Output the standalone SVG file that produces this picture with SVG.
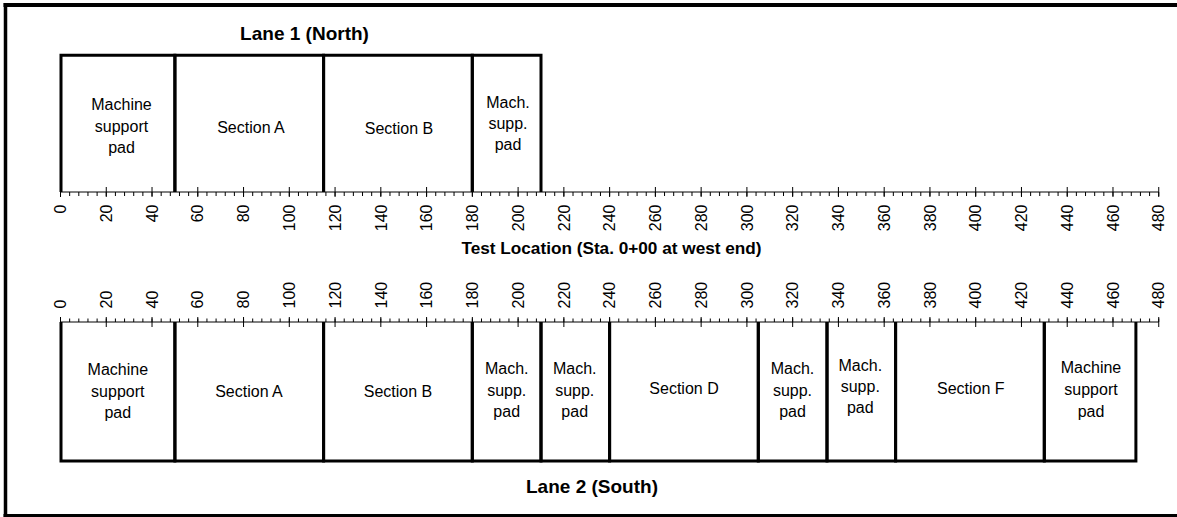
<svg xmlns="http://www.w3.org/2000/svg" width="1177" height="517" viewBox="0 0 1177 517">
<style>
.frame{fill:none;stroke:#000}
.bnd{fill:none;stroke:#000;stroke-width:3}
.axis{fill:none;stroke:#000;stroke-width:1}
.minor{fill:none;stroke:#000;stroke-dasharray:1 8.152}
.major{fill:none;stroke:#000;stroke-dasharray:1 44.76}
.lbl{font-family:"Liberation Sans",Arial,sans-serif;font-size:16px;fill:#000;text-anchor:middle}
.num{font-family:"Liberation Sans",Arial,sans-serif;font-size:16px;fill:#000}
.title{font-family:"Liberation Sans",Arial,sans-serif;font-weight:bold;font-size:19px;fill:#000;text-anchor:middle}
.tnum text{text-anchor:end}
.bnum text{text-anchor:start}
</style>
<rect x="0" y="0" width="1177" height="517" fill="#fff"/>
<g id="frame">
<line class="frame" x1="3.5" y1="5" x2="1177" y2="5" stroke-width="4"/>
<line class="frame" x1="5.5" y1="3" x2="5.5" y2="517" stroke-width="3.5"/>
<line class="frame" x1="3.5" y1="515.5" x2="1177" y2="515.5" stroke-width="3.2"/>
</g>

<g id="titles">
<text class="title" x="304.5" y="40">Lane 1 (North)</text>
<text class="title" x="611.5" y="254" style="font-size:17.2px">Test Location (Sta. 0+00 at west end)</text>
<text class="title" x="592" y="493">Lane 2 (South)</text>
</g>

<g id="axis-top">
<line class="axis" x1="60.5" y1="192" x2="1158.74" y2="192"/>
<line class="minor" x1="60" y1="194" x2="1159.5" y2="194" stroke-width="4"/>
<line class="major" x1="60" y1="192" x2="1159.5" y2="192" stroke-width="10"/>
<g class="num tnum">
<text transform="rotate(-90 66.2 204.5)" x="66.2" y="204.5">0</text>
<text transform="rotate(-90 111.96 204.5)" x="111.96" y="204.5">20</text>
<text transform="rotate(-90 157.72 204.5)" x="157.72" y="204.5">40</text>
<text transform="rotate(-90 203.48 204.5)" x="203.48" y="204.5">60</text>
<text transform="rotate(-90 249.24 204.5)" x="249.24" y="204.5">80</text>
<text transform="rotate(-90 295 204.5)" x="295" y="204.5">100</text>
<text transform="rotate(-90 340.76 204.5)" x="340.76" y="204.5">120</text>
<text transform="rotate(-90 386.52 204.5)" x="386.52" y="204.5">140</text>
<text transform="rotate(-90 432.28 204.5)" x="432.28" y="204.5">160</text>
<text transform="rotate(-90 478.04 204.5)" x="478.04" y="204.5">180</text>
<text transform="rotate(-90 523.8 204.5)" x="523.8" y="204.5">200</text>
<text transform="rotate(-90 569.56 204.5)" x="569.56" y="204.5">220</text>
<text transform="rotate(-90 615.32 204.5)" x="615.32" y="204.5">240</text>
<text transform="rotate(-90 661.08 204.5)" x="661.08" y="204.5">260</text>
<text transform="rotate(-90 706.84 204.5)" x="706.84" y="204.5">280</text>
<text transform="rotate(-90 752.6 204.5)" x="752.6" y="204.5">300</text>
<text transform="rotate(-90 798.36 204.5)" x="798.36" y="204.5">320</text>
<text transform="rotate(-90 844.12 204.5)" x="844.12" y="204.5">340</text>
<text transform="rotate(-90 889.88 204.5)" x="889.88" y="204.5">360</text>
<text transform="rotate(-90 935.64 204.5)" x="935.64" y="204.5">380</text>
<text transform="rotate(-90 981.4 204.5)" x="981.4" y="204.5">400</text>
<text transform="rotate(-90 1027.16 204.5)" x="1027.16" y="204.5">420</text>
<text transform="rotate(-90 1072.92 204.5)" x="1072.92" y="204.5">440</text>
<text transform="rotate(-90 1118.68 204.5)" x="1118.68" y="204.5">460</text>
<text transform="rotate(-90 1164.44 204.5)" x="1164.44" y="204.5">480</text>
</g>
</g>

<g id="axis-bottom">
<line class="axis" x1="60.5" y1="322" x2="1158.74" y2="322"/>
<line class="minor" x1="60" y1="320.25" x2="1159.5" y2="320.25" stroke-width="3.5"/>
<line class="major" x1="60" y1="322" x2="1159.5" y2="322" stroke-width="10"/>
<g class="num bnum">
<text transform="rotate(-90 66.2 308.5)" x="66.2" y="308.5">0</text>
<text transform="rotate(-90 111.96 308.5)" x="111.96" y="308.5">20</text>
<text transform="rotate(-90 157.72 308.5)" x="157.72" y="308.5">40</text>
<text transform="rotate(-90 203.48 308.5)" x="203.48" y="308.5">60</text>
<text transform="rotate(-90 249.24 308.5)" x="249.24" y="308.5">80</text>
<text transform="rotate(-90 295 308.5)" x="295" y="308.5">100</text>
<text transform="rotate(-90 340.76 308.5)" x="340.76" y="308.5">120</text>
<text transform="rotate(-90 386.52 308.5)" x="386.52" y="308.5">140</text>
<text transform="rotate(-90 432.28 308.5)" x="432.28" y="308.5">160</text>
<text transform="rotate(-90 478.04 308.5)" x="478.04" y="308.5">180</text>
<text transform="rotate(-90 523.8 308.5)" x="523.8" y="308.5">200</text>
<text transform="rotate(-90 569.56 308.5)" x="569.56" y="308.5">220</text>
<text transform="rotate(-90 615.32 308.5)" x="615.32" y="308.5">240</text>
<text transform="rotate(-90 661.08 308.5)" x="661.08" y="308.5">260</text>
<text transform="rotate(-90 706.84 308.5)" x="706.84" y="308.5">280</text>
<text transform="rotate(-90 752.6 308.5)" x="752.6" y="308.5">300</text>
<text transform="rotate(-90 798.36 308.5)" x="798.36" y="308.5">320</text>
<text transform="rotate(-90 844.12 308.5)" x="844.12" y="308.5">340</text>
<text transform="rotate(-90 889.88 308.5)" x="889.88" y="308.5">360</text>
<text transform="rotate(-90 935.64 308.5)" x="935.64" y="308.5">380</text>
<text transform="rotate(-90 981.4 308.5)" x="981.4" y="308.5">400</text>
<text transform="rotate(-90 1027.16 308.5)" x="1027.16" y="308.5">420</text>
<text transform="rotate(-90 1072.92 308.5)" x="1072.92" y="308.5">440</text>
<text transform="rotate(-90 1118.68 308.5)" x="1118.68" y="308.5">460</text>
<text transform="rotate(-90 1164.44 308.5)" x="1164.44" y="308.5">480</text>
</g>
</g>

<g id="lane1">
<g id="l1-pad1">
<path class="bnd" d="M61 192V55.3H174.9V192"/>
<text class="lbl" x="121.5" y="110">Machine</text>
<text class="lbl" x="121.5" y="131.5">support</text>
<text class="lbl" x="121.5" y="153">pad</text>
</g>
<g id="l1-secA">
<path class="bnd" d="M174.9 192V55.3H323.6V192"/>
<text class="lbl" x="251" y="133">Section A</text>
</g>
<g id="l1-secB">
<path class="bnd" d="M323.6 192V55.3H472.3V192"/>
<text class="lbl" x="399" y="134">Section B</text>
</g>
<g id="l1-pad2">
<path class="bnd" d="M472.3 192V55.3H541V192"/>
<text class="lbl" x="508" y="108">Mach.</text>
<text class="lbl" x="508" y="129">supp.</text>
<text class="lbl" x="508" y="150">pad</text>
</g>
</g>

<g id="lane2">
<g id="l2-pad1">
<path class="bnd" d="M61 322V461H174.9V322"/>
<text class="lbl" x="117.8" y="375">Machine</text>
<text class="lbl" x="117.8" y="396.5">support</text>
<text class="lbl" x="117.8" y="418">pad</text>
</g>
<g id="l2-secA">
<path class="bnd" d="M174.9 322V461H323.6V322"/>
<text class="lbl" x="249" y="396.7">Section A</text>
</g>
<g id="l2-secB">
<path class="bnd" d="M323.6 322V461H472.3V322"/>
<text class="lbl" x="398" y="396.7">Section B</text>
</g>
<g id="l2-pad2">
<path class="bnd" d="M472.3 322V461H541V322"/>
<text class="lbl" x="506.7" y="374">Mach.</text>
<text class="lbl" x="506.7" y="395.5">supp.</text>
<text class="lbl" x="506.7" y="417">pad</text>
</g>
<g id="l2-pad3">
<path class="bnd" d="M541 322V461H609.6V322"/>
<text class="lbl" x="574.7" y="374">Mach.</text>
<text class="lbl" x="574.7" y="395.5">supp.</text>
<text class="lbl" x="574.7" y="417">pad</text>
</g>
<g id="l2-secD">
<path class="bnd" d="M609.6 322V461H758.3V322"/>
<text class="lbl" x="684" y="394">Section D</text>
</g>
<g id="l2-pad4">
<path class="bnd" d="M758.3 322V461H827V322"/>
<text class="lbl" x="792.5" y="374">Mach.</text>
<text class="lbl" x="792.5" y="395.5">supp.</text>
<text class="lbl" x="792.5" y="417">pad</text>
</g>
<g id="l2-pad5">
<path class="bnd" d="M827 322V461H895.6V322"/>
<text class="lbl" x="860.3" y="370.7">Mach.</text>
<text class="lbl" x="860.3" y="392">supp.</text>
<text class="lbl" x="860.3" y="413">pad</text>
</g>
<g id="l2-secF">
<path class="bnd" d="M895.6 322V461H1044.3V322"/>
<text class="lbl" x="970.8" y="394">Section F</text>
</g>
<g id="l2-pad6">
<path class="bnd" d="M1044.3 322V461H1135.9V322"/>
<text class="lbl" x="1091" y="372.7">Machine</text>
<text class="lbl" x="1091" y="394.5">support</text>
<text class="lbl" x="1091" y="416.5">pad</text>
</g>
</g>

<g id="connectors"></g>
</svg>
